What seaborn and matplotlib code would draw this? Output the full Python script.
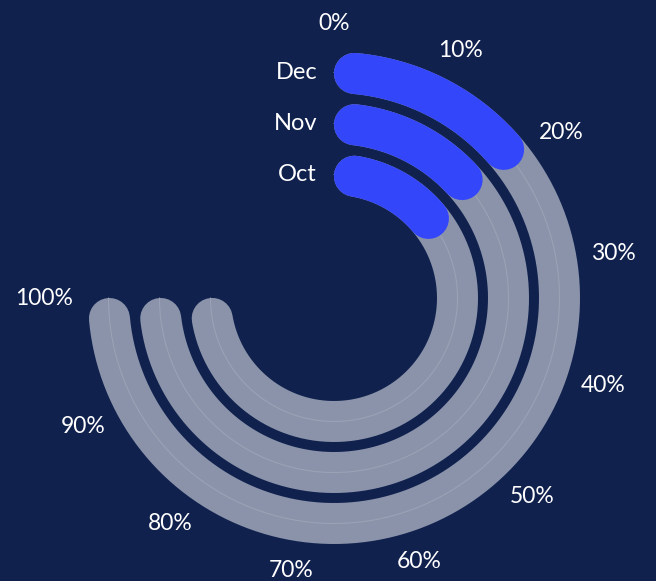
import numpy as np
import pandas as pd
import matplotlib
matplotlib.use("Agg")
import matplotlib.pyplot as plt
import seaborn as sns

# ---- data ----
months = ["Oct", "Nov", "Dec"]
values = [22, 20, 20]
tick_values = [0, 10, 20, 30, 40, 50, 60, 70, 80, 90, 100]
tick_labels = [f"{v}%" for v in tick_values]

# ---- style ----
BG = "#10214e"
TRACK = "#8a93a9"
GRIDC = "#9aa2b6"
BAR = "#3346fa"

sns.set_theme(style="white", rc={"figure.facecolor": BG, "axes.facecolor": BG})
plt.rcParams["font.family"] = ["Lato", "DejaVu Sans"]

W, H = 656, 581
DPI = 100
fig = plt.figure(figsize=(W / DPI, H / DPI), dpi=DPI, facecolor=BG)

cx, cy, R = 334, 298, 250
ax = fig.add_axes([(cx - R) / W, (H - cy - R) / H, 2 * R / W, 2 * R / H],
                  projection="polar")
ax.set_theta_zero_location("N")
ax.set_theta_direction(-1)

SPAN = 1.5 * np.pi          # 0..100% covers 270 degrees
r0, step = 123.5, 51.0      # ring radii (pixels)
bar_px = 41.0
lw_pt = bar_px * 72 / DPI


def arc(r, v0, v1, color, lw, cap=True, z=2):
    half = (bar_px / 2) / r if cap else 0.0
    t0 = v0 / 100 * SPAN + half
    t1 = v1 / 100 * SPAN - half
    theta = np.linspace(t0, t1, 400)
    df = pd.DataFrame({"theta": theta, "r": np.full_like(theta, r)})
    sns.lineplot(data=df, x="theta", y="r", ax=ax, color=color, lw=lw,
                 sort=False, estimator=None, solid_capstyle="round",
                 clip_on=False, zorder=z)


for i, (m, v) in enumerate(zip(months, values)):
    r = r0 + i * step
    arc(r, 0, 100, TRACK, lw_pt, cap=True, z=2)
    arc(r, 0, 100, GRIDC, 0.8, cap=False, z=3)
    arc(r, 0, v, BAR, lw_pt, cap=True, z=4)
    ax.annotate(m, xy=(0, r), xytext=(-17 * 72 / DPI, 0),
                textcoords="offset points", ha="right", va="center",
                color="white", fontsize=17, zorder=5)

for v, lab in zip(tick_values, tick_labels):
    th = v / 100 * SPAN
    rr = 274 + abs(np.sin(th)) * max(0, 7 * len(lab) - 12)
    ax.text(th, rr, lab, ha="center", va="center", color="white",
            fontsize=16.5, zorder=5)

ax.set_ylim(0, R)
ax.set_xlabel("")
ax.set_ylabel("")
ax.set_axis_off()

fig.savefig("out.png", dpi=DPI, facecolor=BG)
